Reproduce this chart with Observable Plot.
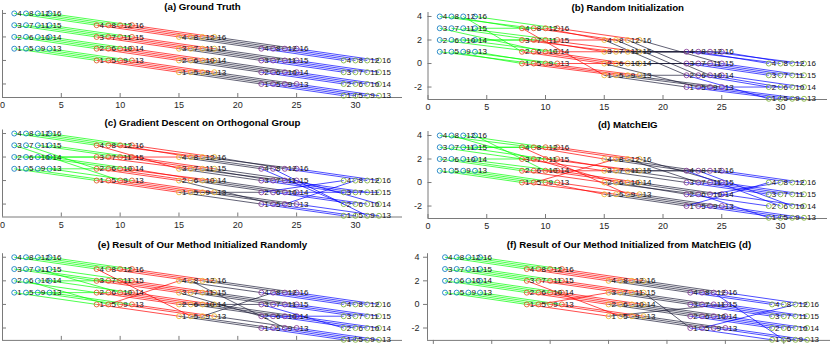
<!DOCTYPE html>
<html><head><meta charset="utf-8">
<script src="https://cdn.jsdelivr.net/npm/d3@7"></script>
<script src="https://cdn.jsdelivr.net/npm/@observablehq/plot@0.6"></script>
<style>
body{margin:0;background:#fff;}
#fig{position:relative;width:830px;height:346px;overflow:hidden;background:#fff;}
#fig svg{position:absolute;overflow:visible;}
</style></head><body><div id="fig"></div>
<script>
// ---- data ----
const titles = ["(a) Ground Truth", "(b) Random Initialization", "(c) Gradient Descent on Orthogonal Group",
  "(d) MatchEIG", "(e) Result of Our Method Initialized Randomly", "(f) Result of Our Method Initialized from MatchEIG (d)"];
const nodeLabels = [1,2,3,4,5,6,7,8,9,10,11,12,13,14,15,16];
const nodeCol = [0,0,0,0,1,1,1,1,2,2,2,2,3,3,3,3];
const nodeRow = [0,1,2,3,0,1,2,3,0,1,2,3,0,1,2,3];
const groupX = [1, 8, 15, 22, 29];
const groupY = [1, 0, -1, -2, -3];
const markerColors = ["#0072BD", "#D95319", "#EDB120", "#7E2F8E", "#77AC30"];
const lineColors = ["#00ff00", "#ff0000", "#1c1c38", "#0000ff"];
const xTicks = [0, 5, 10, 15, 20, 25, 30];
const yTicks = [-2, 0, 2, 4];
const ident = [1,2,3,4,5,6,7,8,9,10,11,12,13,14,15,16];
const matchA = [ident, ident, ident, ident];
const matchB = [
  [5,6,10,8,1,3,7,4,13,14,15,2,9,11,12,16],
  [5,2,7,1,9,6,3,8,13,10,15,4,14,11,12,16],
  [1,5,4,2,9,3,8,6,13,7,12,10,14,11,16,15],
  [5,1,3,8,9,2,7,4,13,6,11,16,10,14,15,12]];
const matchC = [
  [1,3,9,4,5,7,2,8,6,10,11,12,13,14,15,16],
  [1,2,7,3,5,6,4,12,9,14,11,8,13,10,15,16],
  [1,5,3,4,2,6,11,8,9,10,7,16,13,14,15,12],
  [1,4,3,2,5,6,7,9,8,10,11,12,13,15,14,16]];
const matchD = [
  [1,2,3,8,5,6,4,7,9,14,11,12,13,15,16,10],
  [5,2,3,9,8,7,6,4,1,10,15,12,13,14,11,16],
  [1,6,3,4,5,2,12,8,9,10,11,7,13,14,16,15],
  [4,2,3,6,5,1,7,10,9,8,11,12,13,14,15,16]];
const matchE = [
  [1,2,3,4,6,5,7,8,9,11,10,12,13,14,15,16],
  [1,2,3,5,4,6,7,8,9,10,11,12,13,14,15,16],
  [1,3,2,4,5,6,7,9,8,10,11,12,13,14,15,16],
  [1,3,2,4,5,6,7,8,9,10,11,12,13,14,15,16]];
const matchF = [
  ident,
  [1,2,5,4,3,6,7,8,9,10,11,12,13,14,15,16],
  [15,2,3,4,5,6,7,8,9,10,11,12,13,14,1,16],
  [1,2,3,4,12,6,7,8,9,10,11,5,13,14,15,16]];
const matches = [matchA, matchB, matchC, matchD, matchE, matchF];

// ---- layout (not data) ----
const layouts = [
  {left:0,   top:0,   w:415, h:116, xd:[0,34],    ml:2,  mr:13, yd:[-3.15,4.25], mt:10,   mb:19,  tb:9.5,  yLabels:false, xLabels:true,  outward:false},
  {left:415, top:0,   w:415, h:116, xd:[0,34],    ml:12.5, mr:3, yd:[-3.06,4.34], mt:12,  mb:17,  tb:10.5, yLabels:true,  xLabels:true,  outward:false},
  {left:0,   top:116, w:415, h:118, xd:[0,34],    ml:2,  mr:13, yd:[-3.1,4.3],   mt:13.5, mb:17.5, tb:9.5, yLabels:false, xLabels:true,  outward:false},
  {left:415, top:116, w:415, h:118, xd:[0,34],    ml:12.5, mr:3, yd:[-3.06,4.34], mt:15,  mb:16,  tb:11.5, yLabels:true,  xLabels:true,  outward:false},
  {left:0,   top:234, w:415, h:112, xd:[0,34],    ml:2,  mr:13, yd:[-3.05,4.3],  mt:19.2, mb:6.1, tb:13,   yLabels:false, xLabels:false, outward:false},
  {left:415, top:234, w:415, h:112, xd:[-0.5,34], ml:12, mr:0,  yd:[-3.05,4.3],  mt:19.2, mb:6.1, tb:13,   yLabels:true,  xLabels:false, outward:true}
];
const axisColor = "#7a7a7a";
const font = "'Liberation Sans', Arial, Helvetica, sans-serif";

function panel(L, match, title) {
  const nodes = [];
  groupX.forEach((gx, g) => nodeLabels.forEach((lab, i) =>
    nodes.push({g, label: String(lab), x: gx + nodeCol[i], y: groupY[g] + nodeRow[i]})));
  const links = [];
  for (let g = 0; g < 4; g++) {
    nodeLabels.forEach((lab, i) => {
      const j = nodeLabels.indexOf(match[g][i]);
      links.push({g, x1: groupX[g] + nodeCol[i], y1: groupY[g] + nodeRow[i],
                 x2: groupX[g+1] + nodeCol[j], y2: groupY[g+1] + nodeRow[j]});
    });
  }
  const fw = L.w - L.ml - L.mr, fh = L.h - L.mt - L.mb;
  const tl = 4;
  const marks = [
    Plot.ruleY([L.yd[0]], {stroke: axisColor, strokeWidth: 1}),
    Plot.ruleX([L.xd[0]], {stroke: axisColor, strokeWidth: 1}),
    L.outward
      ? Plot.tickX(xTicks, {x: d => d, insetTop: fh, insetBottom: -tl, stroke: axisColor})
      : Plot.tickX(xTicks, {x: d => d, insetTop: fh - tl, stroke: axisColor}),
    L.outward
      ? Plot.tickY(yTicks, {y: d => d, insetLeft: -tl, insetRight: fw, stroke: axisColor})
      : Plot.tickY(yTicks, {y: d => d, insetRight: fw - tl, stroke: axisColor}),
    Plot.link(links, {x1: "x1", y1: "y1", x2: "x2", y2: "y2", stroke: d => lineColors[d.g], strokeWidth: 0.7}),
    Plot.dot(nodes, {x: "x", y: "y", r: 2.5, stroke: d => markerColors[d.g], strokeWidth: 0.8}),
    Plot.text(nodes, {x: "x", y: "y", text: "label", dx: 3, textAnchor: "start", fontSize: 8, fill: "#111"}),
    Plot.text([title], {frameAnchor: "top", text: d => d, dy: L.tb - L.mt, lineAnchor: "bottom", fontWeight: "bold", fontSize: 9.7, fill: "#000"})
  ];
  if (L.xLabels) marks.push(Plot.text(xTicks, {x: d => d, text: d => String(d), frameAnchor: "bottom", dy: 10.5, fontSize: 9, fill: "#262626"}));
  if (L.yLabels) marks.push(Plot.text(yTicks, {y: d => d, text: d => String(d), frameAnchor: "left", dx: L.outward ? -8 : -6, textAnchor: "end", fontSize: 9, fill: "#262626"}));
  const svg = Plot.plot({
    width: L.w, height: L.h,
    marginLeft: L.ml, marginRight: L.mr, marginTop: L.mt, marginBottom: L.mb,
    x: {domain: L.xd, axis: null},
    y: {domain: L.yd, axis: null},
    color: {type: "identity"},
    style: {fontFamily: font, background: "transparent", overflow: "visible"},
    marks
  });
  svg.style.left = L.left + "px";
  svg.style.top = L.top + "px";
  return svg;
}
const fig = document.getElementById("fig");
layouts.forEach((L, k) => fig.appendChild(panel(L, matches[k], titles[k])));
</script></body></html>
